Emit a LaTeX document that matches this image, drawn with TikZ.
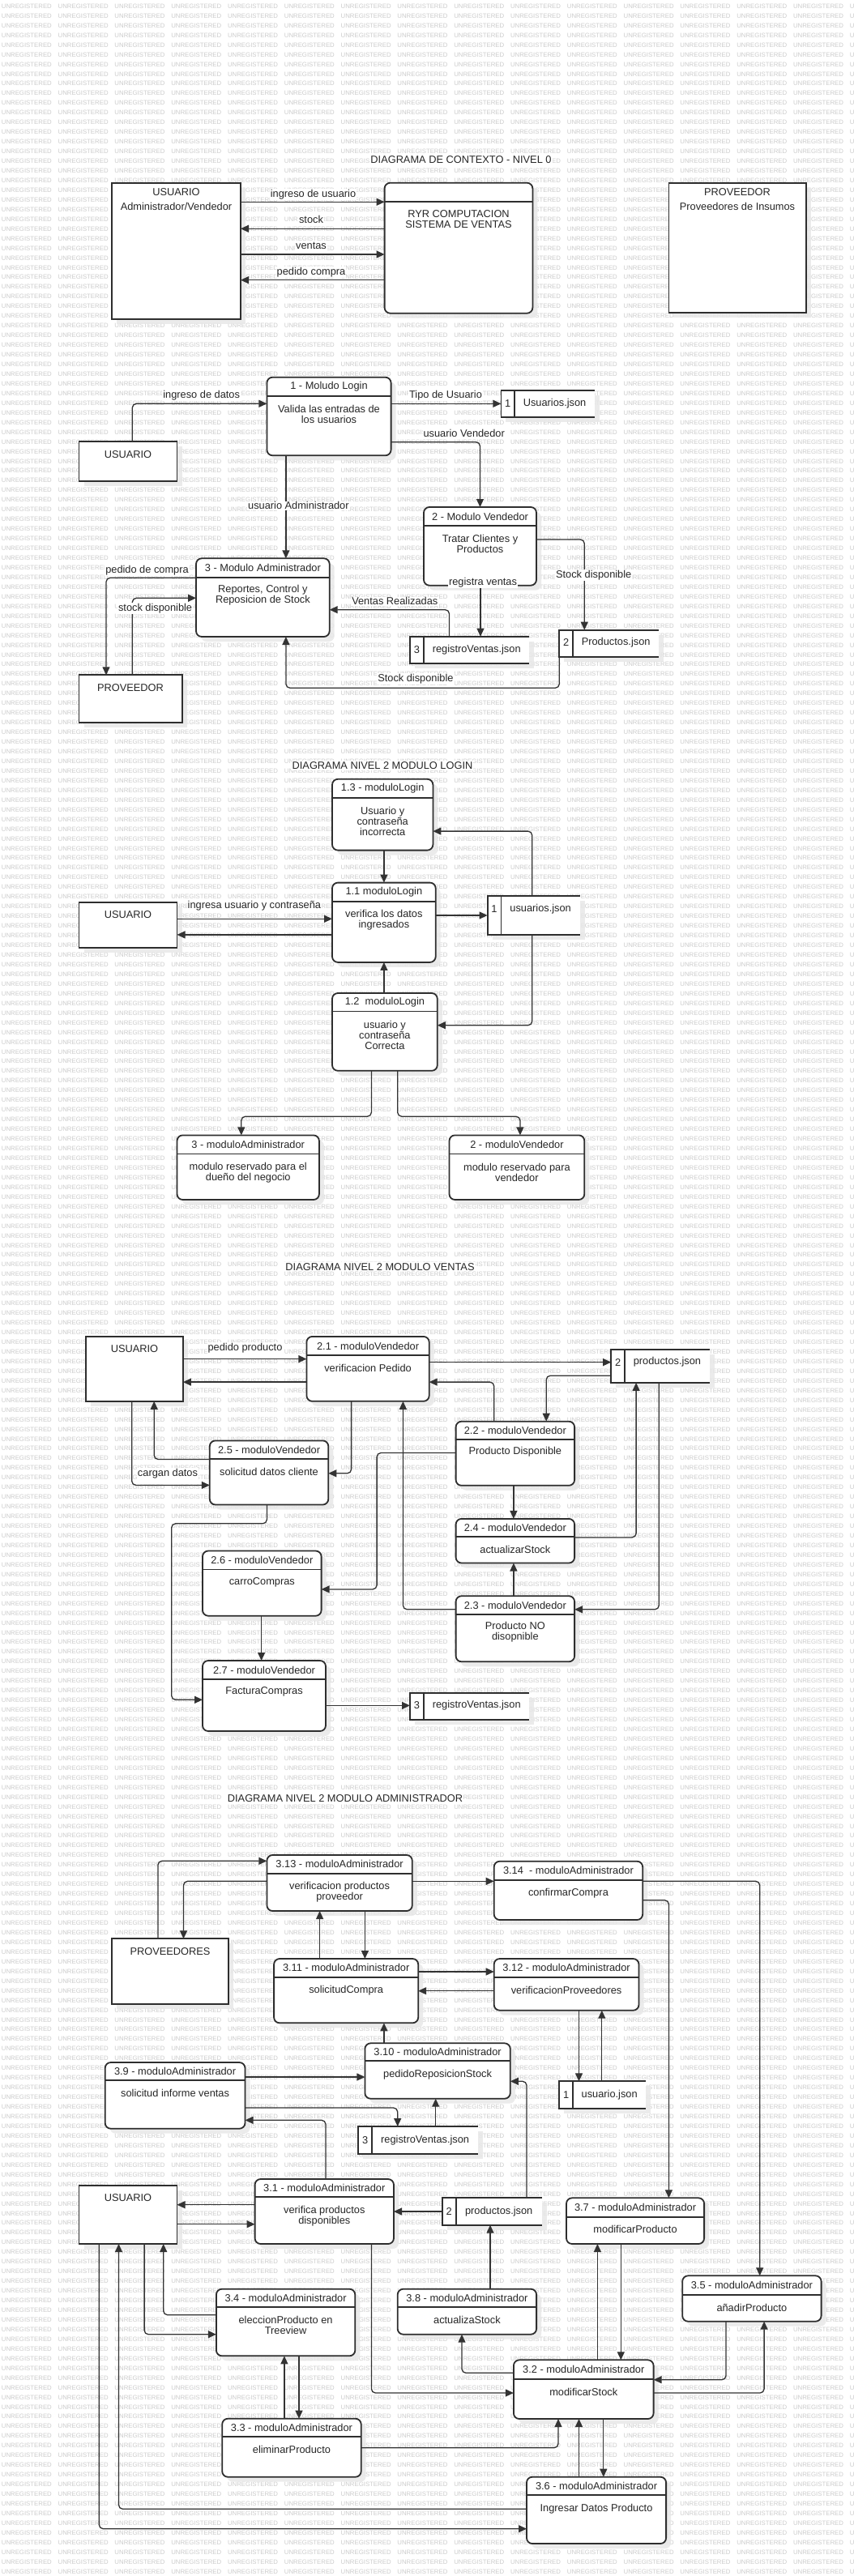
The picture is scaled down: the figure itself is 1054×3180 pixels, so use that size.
\documentclass[tikz,border=0pt]{standalone}
\usepackage{fontspec}
\setmainfont{Liberation Sans}
\usetikzlibrary{arrows.meta,shadows}

\newcommand\wmw{\makebox[69.8pt][l]{UNREGISTERED}}
\newcommand\wmrow{\wmw\wmw\wmw\wmw\wmw\wmw\wmw\wmw\wmw\wmw\wmw\wmw\wmw\wmw\wmw\wmw}

\tikzset{
  base/.style={font=\fontsize{12.8}{13}\selectfont, text=black!85},
  wm/.style={font=\fontsize{7.8}{8}\selectfont, text=black!20, inner sep=0, anchor=west},
  shad/.style={drop shadow={shadow xshift=6pt, shadow yshift=-6pt, fill=black!9, opacity=0.85}},
  procbox/.style={draw=black!82, line width=1.8pt, fill=white, rounded corners=7pt, shad, outer sep=0, inner sep=0},
  extbox/.style={draw=black!82, line width=1.8pt, fill=white, shad, outer sep=0, inner sep=0},
  storebox/.style={fill=white, shad, outer sep=0, inner sep=0, draw=none},
  sline/.style={draw=black!82, line width=1.8pt},
  hline/.style={draw=black!82, line width=1.7pt},
  txt/.style={base, inner sep=0, align=center},
  lbl/.style={base, fill=white, inner sep=1pt},
  ttl/.style={base, fill=white, inner sep=1pt},
  flow/.style={draw=black!80, line width=1.3pt, rounded corners=5pt, -{Triangle[length=10pt,width=9pt]}},
}

% process box: name x1 y1 x2 y2 headerY title body bodyY
\newcommand\proc[9]{%
  \node[procbox, minimum width={(#4-#2)*1pt}, minimum height={(#5-#3)*1pt}] (#1) at ({(#2+#4)/2},{(#3+#5)/2}) {};
  \draw[hline] (#2,#6) -- (#4,#6);
  \node[txt] (#1-t) at ({(#2+#4)/2},{(#3+#6)/2}) {#7};
  \node[txt] (#1-b) at ({(#2+#4)/2},#9) {#8};
}
% external entity: name x1 y1 x2 y2
\newcommand\ext[5]{%
  \node[extbox, minimum width={(#4-#2)*1pt}, minimum height={(#5-#3)*1pt}] (#1) at ({(#2+#4)/2},{(#3+#5)/2}) {};
}
% data store: name x1 y1 x2 y2 divX num text textY
\newcommand\dstore[9]{%
  \node[storebox, minimum width={(#4-#2)*1pt}, minimum height={(#5-#3)*1pt}] (#1) at ({(#2+#4)/2},{(#3+#5)/2}) {};
  \draw[sline] (#4,#3) -- (#2,#3) -- (#2,#5) -- (#4,#5) (#6,#3) -- (#6,#5);
  \node[txt] (#1-n) at ({(#2+#6)/2},#9) {#7};
  \node[txt] (#1-t) at ({(#6+#4)/2},#9) {#8};
}

\begin{document}
\begin{tikzpicture}[x=1pt,y=-1pt]
\useasboundingbox (0,0) rectangle (1054,3180);
\clip (0,0) rectangle (1054,3180);
\fill[white] (0,0) rectangle (1054,3180);
\foreach \k in {0,...,265} { \node[wm] (wm\k) at (1.7,{7.7+11.95*\k}) {\wmrow}; }

% ================= CONTEXT DIAGRAM =================
\ext{cusr}{138}{225.7}{297}{394.3}
\node[txt] (cusr-t) at (217.5,236.7) {USUARIO};
\node[txt] (cusr-s) at (217.5,255) {Administrador/Vendedor};
\proc{cryr}{474.6}{225.7}{657.4}{386.7}{249}{}{RYR COMPUTACION\\SISTEMA DE VENTAS}{270.8}
\ext{cprov}{825.4}{225.7}{994.8}{386}
\node[txt] (cprov-t) at (910,236.7) {PROVEEDOR};
\node[txt] (cprov-s) at (910,255) {Proveedores de Insumos};

\draw[flow] (cusr.east |- 0,249.3) -- (cryr.west |- 0,249.3);
\draw[flow] (cryr.west |- 0,282.3) -- (cusr.east |- 0,282.3);
\draw[flow] (cusr.east |- 0,314) -- (cryr.west |- 0,314);
\draw[flow] (cryr.west |- 0,345.7) -- (cusr.east |- 0,345.7);

% ================= LEVEL 1 =================
\proc{login}{329.4}{465.7}{482.6}{562.3}{489}{1 - Moludo Login}{Valida las entradas de\\los usuarios}{511.2}
\ext{lusr}{97.5}{545}{218.5}{594}
\node[txt] (lusr-t) at (158,561) {USUARIO};
\dstore{lujson}{618.4}{481.7}{734}{515}{635.2}{1}{Usuarios.json}{497.7}
\proc{lvend}{523}{626}{662}{722.7}{649}{2 - Modulo Vendedor}{Tratar Clientes y\\Productos}{671}
\proc{ladm}{242}{689.3}{406.7}{786}{712.7}{3 - Modulo Administrador}{Reportes, Control y\\Reposicion de Stock}{735}
\dstore{lrv}{506}{785.7}{653.4}{819}{523}{3}{registroVentas.json}{801.7}
\dstore{lprod}{690.3}{777.7}{813.3}{810.7}{707}{2}{Productos.json}{793.3}
\ext{lprov}{97.5}{833.3}{225}{892}
\node[txt] (lprov-t) at (161,849) {PROVEEDOR};

\draw[flow] (lusr.north -| 163.3,0) |- (login.west |- 0,498.3);
\draw[flow] (login.east |- 0,498.3) -- (lujson.west |- 0,498.3);
\draw[flow] (login.east |- 0,545.7) -| (lvend.north);
\draw[flow] (login.south -| 352.9,0) -- (ladm.north -| 352.9,0);
\draw[flow] (lvend.south -| 593,0) -- (lrv.north -| 593,0);
\draw[flow] (lvend.east |- 0,666) -| (lprod.north -| 721.3,0);
\draw[flow] (lrv.north -| 554.5,0) |- (ladm.east |- 0,752.7);
\draw[flow] (lprod.south west) -- (690.3,849.3) -| (ladm.south -| 352.9,0);
\draw[flow] (ladm.west |- 0,713.3) -| (lprov.north -| 131,0);
\draw[flow] (lprov.north -| 163.3,0) |- (ladm.west |- 0,738.3);

% ================= LOGIN =================
\node[ttl] (tlogin) at (472,945) {DIAGRAMA NIVEL 2 MODULO LOGIN};
\proc{lgc}{410}{961.8}{534.4}{1049.6}{985}{1.3 - moduloLogin}{Usuario y\\contraseña\\incorrecta}{1013.6}
\proc{lga}{410}{1089.6}{537.7}{1187.9}{1112.9}{1.1 moduloLogin}{verifica los datos\\ingresados}{1135.2}
\ext{lgusr}{97.5}{1113.9}{218.5}{1170}
\node[txt] (lgusr-t) at (158,1129.3) {USUARIO};
\dstore{lgjson}{601.6}{1105.7}{715.9}{1153.9}{618.4}{1}{usuarios.json}{1122.1}
\proc{lgb}{410}{1226}{539.8}{1321.8}{1248.6}{1.2~ moduloLogin}{usuario y\\contraseña\\Correcta}{1277.9}
\proc{lgadm}{218.5}{1401.4}{393.9}{1481}{1424.6}{3 - moduloAdministrador}{modulo reservado para el\\dueño del negocio}{1447.2}
\proc{lgvend}{554.5}{1401.4}{721.3}{1481}{1424.6}{2 - moduloVendedor}{modulo reservado para\\vendedor}{1447.2}

\draw[flow] (lgc.south -| 473.9,0) -- (lga.north -| 473.9,0);
\draw[flow] (lgusr.east |- 0,1134.3) -- (lga.west |- 0,1134.3);
\draw[flow] (lga.west |- 0,1153.9) -- (lgusr.east |- 0,1153.9);
\draw[flow] (lga.east |- 0,1130) -- (lgjson.west |- 0,1130);
\draw[flow] (lgjson.north -| 656.7,0) |- (lgc.east |- 0,1026.1);
\draw[flow] (lgjson.south -| 656.7,0) |- (lgb.east |- 0,1265.7);
\draw[flow] (lgb.north -| 473.9,0) -- (lga.south -| 473.9,0);
\draw[flow] (lgb.south -| 458.4,0) -- (458.4,1378.2) -| (lgadm.north -| 297.8,0);
\draw[flow] (lgb.south -| 490.7,0) -- (490.7,1378.2) -| (lgvend.north -| 641.9,0);

% ================= VENTAS =================
\node[ttl] (tventas) at (469,1563.7) {DIAGRAMA NIVEL 2 MODULO VENTAS};
\ext{vusr}{106.2}{1649.9}{225.9}{1729.8}
\node[txt] (vusr-t) at (166,1665.3) {USUARIO};
\proc{va}{378.4}{1649.9}{529.7}{1729.8}{1673.3}{2.1 - moduloVendedor}{verificacion Pedido}{1688.7}
\dstore{vprod}{754.2}{1665.7}{875.9}{1706.9}{771}{2}{productos.json}{1681.6}
\proc{ve}{258.8}{1778.4}{405.3}{1857.5}{1801}{2.5 - moduloVendedor}{solicitud datos cliente}{1816.8}
\proc{vb}{562.6}{1754.7}{709.1}{1833.8}{1777.2}{2.2 - moduloVendedor}{Producto Disponible}{1792.3}
\proc{vd}{562.6}{1874.9}{709.1}{1929.5}{1897}{2.4 - moduloVendedor}{actualizarStock}{1912.5}
\proc{vf}{250}{1914.5}{396.6}{1994.7}{1937.4}{2.6 - moduloVendedor}{carroCompras}{1953.2}
\proc{vc}{562.6}{1970.2}{709.1}{2051.3}{1992.7}{2.3 - moduloVendedor}{Producto NO\\disopnible}{2014.5}
\proc{vg}{250}{2050}{402}{2137}{2073}{2.7 - moduloVendedor}{FacturaCompras}{2088.4}
\dstore{vrv}{506}{2089.6}{653.4}{2123.2}{523}{3}{registroVentas.json}{2105.4}

\draw[flow] (vusr.east |- 0,1677.6) -- (va.west |- 0,1677.6);
\draw[flow] (va.west |- 0,1706.1) -- (vusr.east |- 0,1706.1);
\draw[flow] (va.east |- 0,1681.6) -- (vprod.west |- 0,1681.6);
\draw[flow] (vprod.west |- 0,1698.2) -| (vb.north -| 674.2,0);
\draw[flow] (vb.north -| 609.7,0) |- (va.east |- 0,1706.1);
\draw[flow] (va.south -| 433.6,0) |- (ve.east |- 0,1818.8);
\draw[flow] (ve.west |- 0,1801.5) -| (vusr.south -| 190.2,0);
\draw[flow] (vusr.south -| 162.7,0) |- (ve.west |- 0,1833.4);
\draw[flow] (ve.south -| 329.4,0) -- (329.4,1880.8) -- (211.7,1880.8) |- (vg.west |- 0,2098.3);
\draw[flow] (vb.west |- 0,1793.5) -- (465.1,1793.5) |- (vf.east |- 0,1961.9);
\draw[flow] (vb.south -| 633.9,0) -- (vd.north -| 633.9,0);
\draw[flow] (vd.east |- 0,1897.9) -| (vprod.south -| 785.1,0);
\draw[flow] (vprod.south -| 813.3,0) |- (vc.east |- 0,1986.8);
\draw[flow] (vc.north -| 633.9,0) -- (vd.south -| 633.9,0);
\draw[flow] (vc.west |- 0,1986.8) -| (va.south -| 497.4,0);
\draw[flow] (vf.south -| 322.6,0) -- (vg.north -| 322.6,0);
\draw[flow] (vg.east |- 0,2105.4) -- (vrv.west |- 0,2105.4);

% ================= ADMINISTRADOR =================
\node[ttl] (tadm) at (426,2220) {DIAGRAMA NIVEL 2 MODULO ADMINISTRADOR};
\proc{amm}{329.4}{2290}{508.8}{2359}{2312.7}{3.13 - moduloAdministrador}{verificacion productos\\proveedor}{2335.3}
\proc{ann}{609.7}{2297.7}{793.2}{2370}{2321}{3.14~ - moduloAdministrador}{confirmarCompra}{2336.7}
\ext{aprov}{137.8}{2393.3}{282.3}{2474.3}
\node[txt] (aprov-t) at (210,2409.3) {PROVEEDORES};
\proc{akk}{338.1}{2418}{516.2}{2497.3}{2440.7}{3.11 - moduloAdministrador}{solicitudCompra}{2456.7}
\proc{all}{609.7}{2418}{788.5}{2481.7}{2440.7}{3.12 - moduloAdministrador}{verificacionProveedores}{2456.7}
\proc{ajj}{450.4}{2522.3}{629.8}{2590.7}{2544.3}{3.10 - moduloAdministrador}{pedidoReposicionStock}{2560.7}
\proc{aii}{129.7}{2546}{302.5}{2627.7}{2568.3}{3.9 - moduloAdministrador}{solicitud informe ventas}{2584.3}
\dstore{aujson}{690.3}{2569.3}{797.2}{2602.7}{707.1}{1}{usuario.json}{2586}
\dstore{arv}{442.3}{2625}{590.2}{2659}{459.1}{3}{registroVentas.json}{2641.7}
\ext{ausr}{97.5}{2697.7}{218.5}{2770}
\node[txt] (ausr-t) at (158,2712.7) {USUARIO};
\proc{aaa}{314.6}{2690}{486}{2770}{2712.3}{3.1 - moduloAdministrador}{verifica productos\\disponibles}{2735.3}
\dstore{aprod}{545.8}{2713.3}{668.8}{2746.7}{562.6}{2}{productos.json}{2730}
\proc{agg}{699}{2713.3}{869.1}{2770}{2736.7}{3.7 - moduloAdministrador}{modificarProducto}{2752.3}
\proc{aee}{842.2}{2809.3}{1013.6}{2865.7}{2832.7}{3.5 - moduloAdministrador}{añadirProducto}{2848.7}
\proc{add}{266.9}{2825.7}{438.3}{2908.3}{2848.3}{3.4 - moduloAdministrador}{eleccionProducto en\\Treeview}{2870.8}
\proc{ahh}{490.7}{2825.7}{662.1}{2881.7}{2848.3}{3.8 - moduloAdministrador}{actualizaStock}{2864.3}
\proc{abb}{633.9}{2913.3}{806.6}{2986}{2936.7}{3.2 - moduloAdministrador}{modificarStock}{2952.7}
\proc{acc}{274.2}{2985.7}{445.7}{3057.7}{3008.3}{3.3 - moduloAdministrador}{eliminarProducto}{3024.3}
\proc{aff}{650}{3057.7}{822.1}{3140}{3080}{3.6 - moduloAdministrador}{Ingresar Datos Producto}{3096.7}

\draw[flow] (aprov.north -| 194.9,0) |- (amm.west |- 0,2297.3);
\draw[flow] (amm.west |- 0,2322.3) -| (aprov.north -| 226.5,0);
\draw[flow] (amm.east |- 0,2322.3) -- (ann.west |- 0,2322.3);
\draw[flow] (akk.north -| 394.6,0) -- (amm.south -| 394.6,0);
\draw[flow] (amm.south -| 450.4,0) -- (akk.north -| 450.4,0);
\draw[flow] (akk.east |- 0,2434) -- (all.west |- 0,2434);
\draw[flow] (all.west |- 0,2457.7) -- (akk.east |- 0,2457.7);
\draw[flow] (ajj.north -| 473.9,0) -- (akk.south -| 473.9,0);
\draw[flow] (all.south -| 714.5,0) -- (aujson.north -| 714.5,0);
\draw[flow] (aujson.north -| 742.8,0) -- (all.south -| 742.8,0);
\draw[flow] (aii.east |- 0,2564) -- (ajj.west |- 0,2564);
\draw[flow] (aii.east |- 0,2602) -| (arv.north -| 490.7,0);
\draw[flow] (arv.north -| 537.7,0) -- (ajj.south -| 537.7,0);
\draw[flow] (aaa.north -| 402,0) |- (aii.east |- 0,2617.3);
\draw[flow] (aprod.north -| 650,0) |- (ajj.east |- 0,2569.3);
\draw[flow] (ann.east |- 0,2322.3) -| (aee.north -| 937.7,0);
\draw[flow] (ann.east |- 0,2345.7) -| (agg.north -| 825.4,0);
\draw[flow] (aaa.west |- 0,2721.7) -- (ausr.east |- 0,2721.7);
\draw[flow] (ausr.east |- 0,2745.7) -- (aaa.west |- 0,2745.7);
\draw[flow] (aprod.west |- 0,2730) -- (aaa.east |- 0,2730);
\draw[flow] (ahh.north -| 605,0) -- (aprod.south -| 605,0);
\draw[flow] (add.west |- 0,2857.7) -| (ausr.south -| 201.7,0);
\draw[flow] (ausr.south -| 178.1,0) |- (add.west |- 0,2881.7);
\draw[flow] (aaa.south -| 458.4,0) |- (abb.west |- 0,2954);
\draw[flow] (acc.north -| 350.9,0) -- (add.south -| 350.9,0);
\draw[flow] (add.south -| 369,0) -- (acc.north -| 369,0);
\draw[flow] (abb.west |- 0,2929.3) -| (ahh.south -| 570,0);
\draw[flow] (abb.north -| 737.4,0) -- (agg.south -| 737.4,0);
\draw[flow] (agg.south -| 766.3,0) -- (abb.north -| 766.3,0);
\draw[flow] (aee.south -| 896,0) |- (abb.east |- 0,2937.7);
\draw[flow] (abb.east |- 0,2954) -| (aee.south -| 943.1,0);
\draw[flow] (acc.east |- 0,3021.7) -| (abb.south -| 689,0);
\draw[flow] (aff.north -| 714.5,0) -- (abb.south -| 714.5,0);
\draw[flow] (abb.south -| 744.8,0) -- (aff.north -| 744.8,0);
\draw[flow] (aff.west |- 0,3097.3) -| (ausr.south -| 146.5,0);
\draw[flow] (ausr.south -| 122.3,0) |- (aff.west |- 0,3121.7);

% ================= LABELS =================
\node[ttl] (t0) at (569,196.7) {DIAGRAMA DE CONTEXTO - NIVEL 0};
\node[lbl] (l01) at (386.5,240) {ingreso de usuario};
\node[lbl] (l02) at (384,271) {stock};
\node[lbl] (l03) at (384,303.3) {ventas};
\node[lbl] (l04) at (384,335.7) {pedido compra};

\node[lbl] (l11) at (248.7,487.7) {ingreso de datos};
\node[lbl] (l12) at (550,487.7) {Tipo de Usuario};
\node[lbl] (l13) at (572.7,535) {usuario Vendedor};
\node[lbl] (l14) at (368.4,624.3) {usuario Administrador};
\node[lbl] (l15) at (596,719.3) {registra ventas};
\node[lbl] (l16) at (732.7,710) {Stock disponible};
\node[lbl] (l17) at (487.3,742.3) {Ventas Realizadas};
\node[lbl] (l18) at (512.9,838.3) {Stock disponible};
\node[lbl] (l19) at (181.5,704) {pedido de compra};
\node[lbl] (l110) at (191.6,750.7) {stock disponible};

\node[lbl] (l21) at (313.9,1118.6) {ingresa usuario y contraseña};

\node[lbl] (l31) at (302.5,1663.8) {pedido producto};
\node[lbl] (l32) at (207,1818.8) {cargan datos};
\end{tikzpicture}
\end{document}
